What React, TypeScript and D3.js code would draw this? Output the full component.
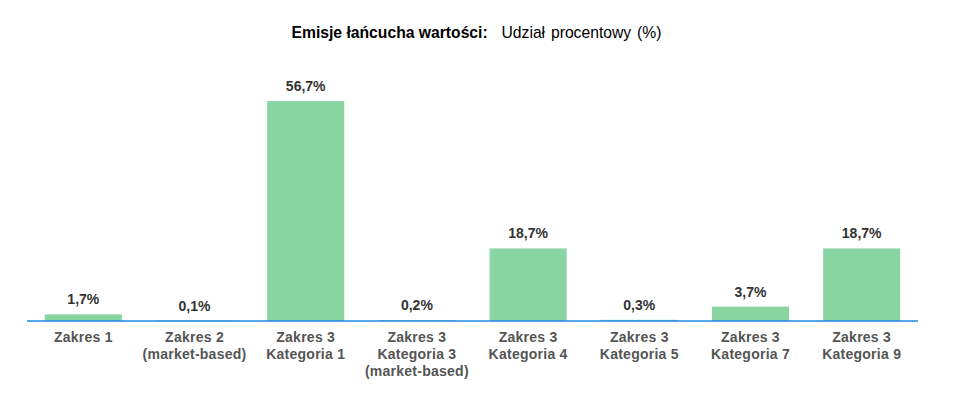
import React from "react";
import * as d3 from "d3";

const categories: string[][] = [
  ["Zakres 1"],
  ["Zakres 2", "(market-based)"],
  ["Zakres 3", "Kategoria 1"],
  ["Zakres 3", "Kategoria 3", "(market-based)"],
  ["Zakres 3", "Kategoria 4"],
  ["Zakres 3", "Kategoria 5"],
  ["Zakres 3", "Kategoria 7"],
  ["Zakres 3", "Kategoria 9"],
];
const values: number[] = [1.7, 0.1, 56.7, 0.2, 18.7, 0.3, 3.7, 18.7];
const valueLabels: string[] = ["1,7%", "0,1%", "56,7%", "0,2%", "18,7%", "0,3%", "3,7%", "18,7%"];
const titleBold = "Emisje łańcucha wartości:";
const titleNormal = "Udział procentowy (%)";

const W = 961;
const H = 407;
const baseY = 321;
const topY = 101;

export default function App() {
  const idx = categories.map((_, i) => String(i));
  const x = d3.scaleBand<string>().domain(idx).range([27, 918]).paddingInner(0.307).paddingOuter(0.16);
  const y = d3.scaleLinear().domain([0, 56.7]).range([baseY, topY]);
  const font = "'Liberation Sans', Arial, sans-serif";
  return (
    <div style={{ position: "absolute", left: 0, top: 0 }}>
      <svg width={W} height={H} style={{ display: "block", fontFamily: font }}>
        <rect width={W} height={H} fill="#fff" />
        <text x={291.5} y={37.5} fontSize={15.7} fill="#000">
          <tspan fontWeight="bold">{titleBold}</tspan>
          <tspan x={501.5} wordSpacing={1.5}>{titleNormal}</tspan>
        </text>
        {values.map((v, i) => {
          const bx = x(String(i))!;
          const yTop = y(v);
          return (
            <g key={i}>
              <rect x={bx} y={yTop} width={x.bandwidth()} height={Math.max(baseY - yTop, 0.8)} fill="#88d5a2" />
              <text
                x={bx + x.bandwidth() / 2}
                y={yTop - 10}
                textAnchor="middle"
                fontSize={14}
                fontWeight="bold"
                fill="#333"
              >
                {valueLabels[i]}
              </text>
            </g>
          );
        })}
        <line x1={27} x2={918} y1={baseY} y2={baseY} stroke="#1e88e5" strokeWidth={1.5} />
        {categories.map((lines, i) => (
          <text
            key={i}
            x={x(String(i))! + x.bandwidth() / 2}
            textAnchor="middle"
            fontSize={14}
            fontWeight="bold"
            fill="#555"
            letterSpacing={0.25}
          >
            {lines.map((l, j) => (
              <tspan key={j} x={x(String(i))! + x.bandwidth() / 2} y={342 + j * 17}>
                {l}
              </tspan>
            ))}
          </text>
        ))}
      </svg>
    </div>
  );
}
